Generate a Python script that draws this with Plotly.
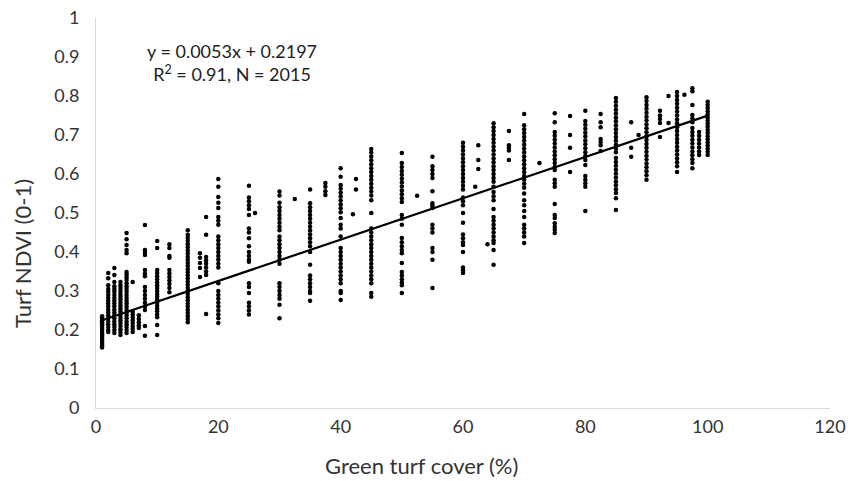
import plotly.graph_objects as go

# ---- data: NDVI values observed at each green-cover level ----
cover_levels = [1, 2, 3, 4, 5, 6, 7, 8, 10, 12, 15, 17, 18, 20, 25, 26, 30, 32.5, 35, 37.5,
                40, 42, 42.5, 45, 50, 52.5, 55, 60, 62, 62.5, 64, 65, 67.5, 70, 72.5, 75,
                77.5, 80, 82.5, 85, 87.5, 88.7, 90, 92.2, 93.6, 95, 96.2, 97.5, 98.6, 100]

ndvi_1 = [0.155, 0.16, 0.165, 0.17, 0.175, 0.18, 0.185, 0.19, 0.195, 0.2, 0.205, 0.21, 0.215, 0.22, 0.225, 0.23, 0.235]
ndvi_2 = [0.346, 0.333, 0.195, 0.2, 0.208, 0.215, 0.222, 0.23, 0.238, 0.245, 0.252, 0.26, 0.268, 0.275, 0.282, 0.29, 0.298, 0.305, 0.315]
ndvi_3 = [0.359, 0.341, 0.192, 0.2, 0.208, 0.215, 0.222, 0.23, 0.238, 0.245, 0.252, 0.26, 0.268, 0.275, 0.282, 0.29, 0.298, 0.305, 0.312, 0.323]
ndvi_4 = [0.187, 0.195, 0.202, 0.21, 0.218, 0.225, 0.232, 0.24, 0.248, 0.255, 0.262, 0.27, 0.278, 0.285, 0.292, 0.3, 0.308, 0.315, 0.323]
ndvi_5 = [0.449, 0.433, 0.418, 0.405, 0.397, 0.192, 0.2, 0.208, 0.215, 0.222, 0.23, 0.238, 0.245, 0.252, 0.26, 0.268, 0.275,
          0.282, 0.29, 0.298, 0.305, 0.312, 0.32, 0.328, 0.335, 0.342, 0.349]
ndvi_6 = [0.323, 0.195, 0.203, 0.21, 0.218, 0.225, 0.232, 0.24, 0.246]
ndvi_7 = [0.205, 0.212, 0.22, 0.228, 0.238]
ndvi_8 = [0.469, 0.405, 0.398, 0.392, 0.354, 0.345, 0.338, 0.31, 0.3, 0.29, 0.28, 0.27, 0.26, 0.251, 0.21, 0.185]
ndvi_10 = [0.428, 0.41, 0.233, 0.24, 0.248, 0.255, 0.262, 0.27, 0.278, 0.285, 0.292, 0.3, 0.308, 0.315, 0.322, 0.33,
           0.338, 0.346, 0.354, 0.213, 0.187]
ndvi_12 = [0.42, 0.41, 0.39, 0.385, 0.354, 0.345, 0.336, 0.327, 0.318, 0.308, 0.297]
ndvi_15 = [0.22, 0.228, 0.236, 0.244, 0.252, 0.26, 0.268, 0.276, 0.284, 0.292, 0.3, 0.308, 0.316, 0.324, 0.332, 0.34,
           0.348, 0.356, 0.364, 0.372, 0.38, 0.388, 0.396, 0.404, 0.412, 0.42, 0.428, 0.436, 0.444, 0.456]
ndvi_17 = [0.397, 0.385, 0.372, 0.359, 0.336]
ndvi_18 = [0.49, 0.444, 0.387, 0.378, 0.37, 0.36, 0.35, 0.341, 0.241]
ndvi_20 = [0.587, 0.567, 0.541, 0.526, 0.513, 0.49, 0.48, 0.47, 0.44, 0.43, 0.42, 0.41, 0.4, 0.39, 0.38, 0.37, 0.36,
           0.32, 0.3, 0.29, 0.28, 0.27, 0.26, 0.25, 0.24, 0.23, 0.218]
ndvi_25 = [0.57, 0.54, 0.53, 0.52, 0.51, 0.495, 0.46, 0.45, 0.435, 0.415, 0.4, 0.39, 0.38, 0.375, 0.32, 0.31, 0.295,
           0.27, 0.26, 0.25, 0.24]
ndvi_26 = [0.5]
ndvi_30 = [0.555, 0.545, 0.526, 0.515, 0.505, 0.495, 0.485, 0.475, 0.465, 0.456, 0.44, 0.43, 0.42, 0.41, 0.4, 0.39,
           0.38, 0.37, 0.32, 0.31, 0.3, 0.29, 0.28, 0.265, 0.23]
ndvi_32 = [0.536]
ndvi_35 = [0.56, 0.525, 0.515, 0.505, 0.495, 0.485, 0.475, 0.465, 0.455, 0.445, 0.435, 0.425, 0.415, 0.4, 0.367,
           0.34, 0.33, 0.32, 0.31, 0.3, 0.295, 0.275]
ndvi_37 = [0.577, 0.567, 0.556, 0.546]
ndvi_40 = [0.615, 0.593, 0.572, 0.562, 0.552, 0.542, 0.532, 0.522, 0.512, 0.502, 0.487, 0.47, 0.46, 0.44, 0.41, 0.4,
           0.39, 0.38, 0.37, 0.36, 0.35, 0.34, 0.33, 0.32, 0.3, 0.295, 0.277]
ndvi_42 = [0.497]
ndvi_42b = [0.587, 0.56]
ndvi_45 = [0.664, 0.655, 0.645, 0.635, 0.625, 0.615, 0.605, 0.595, 0.585, 0.575, 0.565, 0.555, 0.545, 0.533, 0.5,
           0.46, 0.45, 0.44, 0.43, 0.42, 0.41, 0.4, 0.39, 0.38, 0.37, 0.36, 0.35, 0.34, 0.33, 0.32, 0.295, 0.285]
ndvi_50 = [0.654, 0.628, 0.618, 0.608, 0.598, 0.588, 0.578, 0.568, 0.558, 0.548, 0.538, 0.528, 0.495, 0.485, 0.47,
           0.436, 0.425, 0.415, 0.405, 0.397, 0.372, 0.349, 0.34, 0.33, 0.322, 0.315, 0.295]
ndvi_52 = [0.544]
ndvi_55 = [0.644, 0.62, 0.61, 0.6, 0.59, 0.556, 0.525, 0.519, 0.513, 0.47, 0.46, 0.45, 0.41, 0.4, 0.38, 0.308]
ndvi_60 = [0.68, 0.67, 0.66, 0.65, 0.64, 0.63, 0.62, 0.61, 0.6, 0.59, 0.58, 0.57, 0.56, 0.54, 0.53, 0.52, 0.5, 0.475,
           0.445, 0.435, 0.425, 0.418, 0.4, 0.36, 0.353, 0.346]
ndvi_62 = [0.567]
ndvi_62b = [0.674, 0.636, 0.613]
ndvi_64 = [0.42]
ndvi_65 = [0.73, 0.72, 0.71, 0.7, 0.69, 0.68, 0.67, 0.66, 0.65, 0.64, 0.63, 0.62, 0.61, 0.6, 0.59, 0.58, 0.567, 0.554,
           0.543, 0.533, 0.51, 0.49, 0.48, 0.47, 0.46, 0.45, 0.44, 0.43, 0.423, 0.405, 0.367]
ndvi_67 = [0.71, 0.674, 0.667, 0.66, 0.636]
ndvi_70 = [0.754, 0.725, 0.715, 0.705, 0.695, 0.685, 0.675, 0.665, 0.655, 0.645, 0.635, 0.625, 0.615, 0.605, 0.595,
           0.585, 0.575, 0.565, 0.55, 0.533, 0.52, 0.505, 0.49, 0.47, 0.46, 0.45, 0.44, 0.423]
ndvi_72 = [0.628]
ndvi_75 = [0.756, 0.733, 0.708, 0.698, 0.688, 0.678, 0.668, 0.658, 0.648, 0.638, 0.628, 0.618, 0.61, 0.585, 0.576,
           0.567, 0.523, 0.495, 0.487, 0.474, 0.465, 0.457, 0.449]
ndvi_77 = [0.749, 0.7, 0.667, 0.605]
ndvi_80 = [0.762, 0.736, 0.726, 0.716, 0.706, 0.696, 0.686, 0.676, 0.666, 0.656, 0.646, 0.636, 0.623, 0.595, 0.585,
           0.576, 0.567, 0.505]
ndvi_82 = [0.754, 0.733, 0.72, 0.69, 0.682, 0.674, 0.659]
ndvi_85 = [0.795, 0.785, 0.775, 0.765, 0.755, 0.745, 0.735, 0.725, 0.715, 0.705, 0.695, 0.685, 0.675, 0.665, 0.656,
           0.641, 0.631, 0.621, 0.611, 0.601, 0.591, 0.581, 0.571, 0.561, 0.551, 0.538, 0.508]
ndvi_87 = [0.733, 0.667, 0.644]
ndvi_88 = [0.7]
ndvi_90 = [0.797, 0.787, 0.777, 0.767, 0.757, 0.747, 0.737, 0.727, 0.717, 0.707, 0.697, 0.687, 0.677, 0.667, 0.657,
           0.647, 0.637, 0.627, 0.617, 0.607, 0.597, 0.585]
ndvi_92 = [0.762, 0.75, 0.741, 0.731, 0.695]
ndvi_93 = [0.8, 0.731]
ndvi_95 = [0.81, 0.8, 0.79, 0.78, 0.77, 0.76, 0.75, 0.74, 0.73, 0.72, 0.71, 0.7, 0.69, 0.68, 0.67, 0.66, 0.65, 0.64,
           0.63, 0.62, 0.605]
ndvi_96 = [0.803]
ndvi_97 = [0.82, 0.812, 0.777, 0.751, 0.742, 0.733, 0.718, 0.708, 0.698, 0.688, 0.678, 0.668, 0.658, 0.648, 0.638,
           0.628, 0.615]
ndvi_98 = [0.708, 0.698, 0.688, 0.678, 0.668, 0.658, 0.649]
ndvi_100 = [0.785, 0.777, 0.769, 0.761, 0.753, 0.745, 0.737, 0.729, 0.721, 0.713, 0.705, 0.697, 0.689, 0.681, 0.673,
            0.665, 0.657, 0.649]

ndvi_groups = [ndvi_1, ndvi_2, ndvi_3, ndvi_4, ndvi_5, ndvi_6, ndvi_7, ndvi_8, ndvi_10, ndvi_12, ndvi_15, ndvi_17,
               ndvi_18, ndvi_20, ndvi_25, ndvi_26, ndvi_30, ndvi_32, ndvi_35, ndvi_37, ndvi_40, ndvi_42, ndvi_42b,
               ndvi_45, ndvi_50, ndvi_52, ndvi_55, ndvi_60, ndvi_62, ndvi_62b, ndvi_64, ndvi_65, ndvi_67, ndvi_70,
               ndvi_72, ndvi_75, ndvi_77, ndvi_80, ndvi_82, ndvi_85, ndvi_87, ndvi_88, ndvi_90, ndvi_92, ndvi_93,
               ndvi_95, ndvi_96, ndvi_97, ndvi_98, ndvi_100]

slope = 0.0053
intercept = 0.2197
equation_text = "y = 0.0053x + 0.2197"
stats_text = "R<sup>2</sup> = 0.91, N = 2015"
x_title = "Green turf cover (%)"
y_title = "Turf NDVI (0-1)"
x_ticks = [0, 20, 40, 60, 80, 100, 120]
y_ticks = [0, 0.1, 0.2, 0.3, 0.4, 0.5, 0.6, 0.7, 0.8, 0.9, 1]

# ---- build flat arrays ----
xs, ys = [], []
for c, vals in zip(cover_levels, ndvi_groups):
    xs.extend([c] * len(vals))
    ys.extend(vals)

x_min, x_max = min(cover_levels), max(cover_levels)
trend_x = [x_min, x_max]
trend_y = [slope * v + intercept for v in trend_x]

FONT = "Lato, 'Open Sans', sans-serif"
TXT = "#333333"

fig = go.Figure()
fig.add_trace(go.Scatter(x=xs, y=ys, mode="markers",
                         marker=dict(color="black", size=4.5, line=dict(width=0)),
                         showlegend=False, hoverinfo="x+y"))
fig.add_trace(go.Scatter(x=trend_x, y=trend_y, mode="lines",
                         line=dict(color="black", width=2.2), showlegend=False))

# regression equation box
fig.add_annotation(x=0.185, y=0.886, xref="paper", yref="paper", xanchor="center", yanchor="middle",
                   text=equation_text + "<br>" + stats_text, showarrow=False,
                   align="center", font=dict(family=FONT, size=18, color="#222222"))
# axis titles
fig.add_annotation(x=0.443, y=-0.148, xref="paper", yref="paper", xanchor="center", yanchor="middle",
                   text=x_title, showarrow=False, font=dict(family=FONT, size=22, color=TXT))
fig.add_annotation(x=-0.101, y=0.397, xref="paper", yref="paper", xanchor="center", yanchor="middle",
                   text=y_title, textangle=-90, showarrow=False, font=dict(family=FONT, size=22, color=TXT))

fig.update_layout(
    width=848, height=481,
    margin=dict(l=96, r=18, t=18, b=73),
    paper_bgcolor="white", plot_bgcolor="white",
    font=dict(family=FONT, size=18, color=TXT),
    xaxis=dict(range=[0, 120], tickvals=x_ticks, showgrid=False, zeroline=False, automargin=False,
               showline=True, linecolor="#d9d9d9", linewidth=1, ticks="",
               ticklabelstandoff=2),
    yaxis=dict(range=[0, 1], tickvals=y_ticks, showgrid=False, zeroline=False, automargin=False,
               showline=True, linecolor="#d9d9d9", linewidth=1, ticks="",
               ticklabelstandoff=12),
)

fig.write_html("out.html", config={"displayModeBar": False},
               post_script="document.body.style.margin='0';document.body.style.overflow='hidden';")
